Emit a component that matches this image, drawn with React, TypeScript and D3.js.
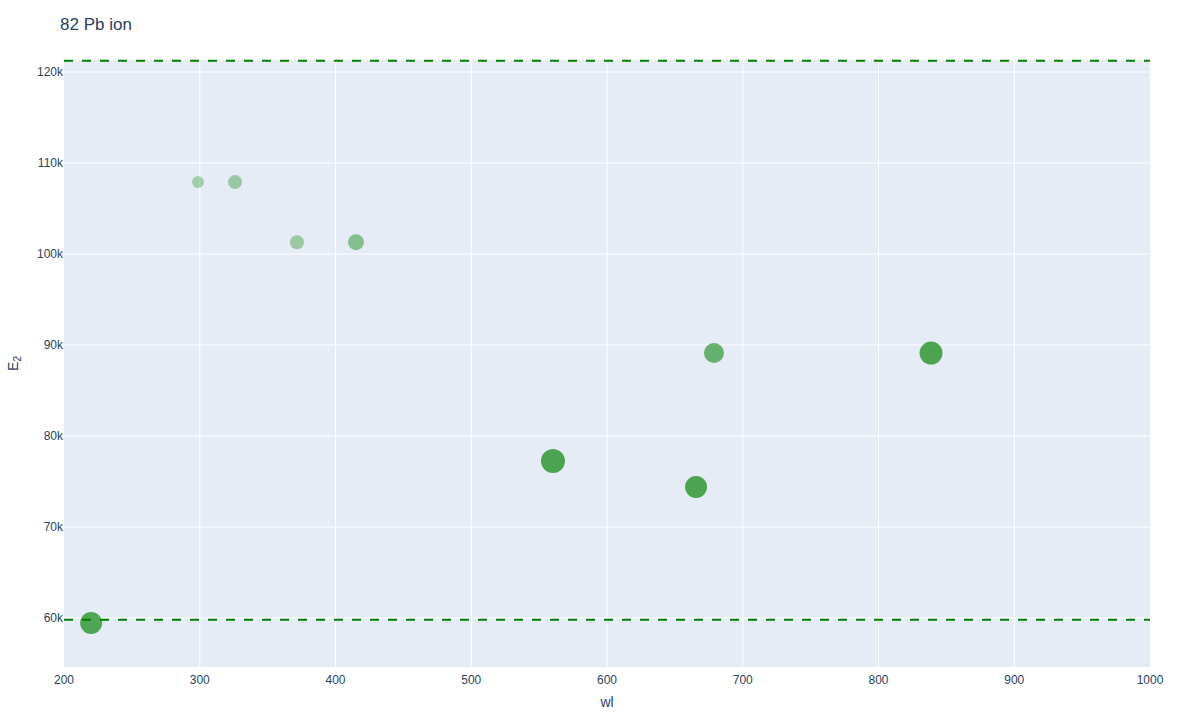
import { useRef, useEffect, RefObject } from 'react';
import * as d3 from 'd3';

// wavelength (nm) and upper level energy (cm-1) of each line
const wl: number[] = [220.0, 298.7, 326.0, 371.6, 415.1, 560.2, 678.8, 665.6, 838.7];
const E2: number[] = [59450, 107900, 107900, 101300, 101300, 77250, 89120, 74400, 89120];
const markerSize: number[] = [22, 12, 14, 14, 16, 24, 20, 22, 23];
const markerOpacity: number[] = [0.66, 0.3, 0.33, 0.33, 0.42, 0.67, 0.56, 0.67, 0.67];

// ionization limits drawn as dashed lines
const limits: number[] = [59819.2, 121245.28];

const xTicks: number[] = [200, 300, 400, 500, 600, 700, 800, 900, 1000];
const yTicks: number[] = [60000, 70000, 80000, 90000, 100000, 110000, 120000];

const App = () => {
  const svgRef: RefObject<SVGSVGElement> = useRef(null);

  useEffect(() => {
    const width = 1200;
    const height = 720;
    const margin = { top: 60, right: 50, bottom: 53, left: 64 };
    const font = '"Liberation Sans", Arial, sans-serif';
    const textColor = '#2a3f5f';

    const svg = d3.select(svgRef.current);
    svg.selectAll('*').remove();
    svg.attr('width', width).attr('height', height);

    const x = d3.scaleLinear().domain([200, 1000]).range([margin.left, width - margin.right]);
    const y = d3.scaleLinear().domain([54615, 121320]).range([height - margin.bottom, margin.top]);

    svg.append('rect')
      .attr('x', margin.left)
      .attr('y', margin.top)
      .attr('width', width - margin.left - margin.right)
      .attr('height', height - margin.top - margin.bottom)
      .attr('fill', '#E5ECF6');

    // grid
    const grid = svg.append('g').attr('stroke', 'white').attr('stroke-width', 1);
    grid.selectAll('line.gx')
      .data(xTicks.slice(1, -1))
      .join('line')
      .attr('x1', (d) => x(d)).attr('x2', (d) => x(d))
      .attr('y1', margin.top).attr('y2', height - margin.bottom);
    grid.selectAll('line.gy')
      .data(yTicks)
      .join('line')
      .attr('x1', margin.left).attr('x2', width - margin.right)
      .attr('y1', (d) => y(d)).attr('y2', (d) => y(d));

    // tick labels
    svg.append('g')
      .selectAll('text')
      .data(xTicks)
      .join('text')
      .attr('x', (d) => x(d))
      .attr('y', height - margin.bottom + 13)
      .attr('dy', '0.35em')
      .attr('text-anchor', 'middle')
      .attr('font-family', font)
      .attr('font-size', 12)
      .attr('fill', textColor)
      .text((d) => d);

    svg.append('g')
      .selectAll('text')
      .data(yTicks)
      .join('text')
      .attr('x', margin.left - 1)
      .attr('y', (d) => y(d))
      .attr('dy', '0.35em')
      .attr('text-anchor', 'end')
      .attr('font-family', font)
      .attr('font-size', 12)
      .attr('fill', textColor)
      .text((d) => d3.format('~s')(d));

    // markers
    svg.append('g')
      .selectAll('circle')
      .data(wl.map((w, i) => ({ w, e: E2[i], s: markerSize[i], o: markerOpacity[i] })))
      .join('circle')
      .attr('cx', (d) => x(d.w))
      .attr('cy', (d) => y(d.e))
      .attr('r', (d) => d.s / 2)
      .attr('fill', 'green')
      .attr('fill-opacity', (d) => d.o);

    // ionization limits
    svg.append('g')
      .selectAll('line')
      .data(limits)
      .join('line')
      .attr('x1', margin.left).attr('x2', width - margin.right)
      .attr('y1', (d) => y(d)).attr('y2', (d) => y(d))
      .attr('stroke', 'green')
      .attr('stroke-width', 2)
      .attr('stroke-dasharray', '9,9');

    // titles
    svg.append('text')
      .attr('x', 60)
      .attr('y', 24)
      .attr('dy', '0.35em')
      .attr('font-family', font)
      .attr('font-size', 17)
      .attr('fill', textColor)
      .text('82 Pb ion');

    svg.append('text')
      .attr('x', (margin.left + width - margin.right) / 2)
      .attr('y', 702)
      .attr('dy', '0.35em')
      .attr('text-anchor', 'middle')
      .attr('font-family', font)
      .attr('font-size', 14)
      .attr('fill', textColor)
      .text('wl');

    const yt = svg.append('text')
      .attr('transform', `translate(18,${(margin.top + height - margin.bottom) / 2}) rotate(-90)`)
      .attr('text-anchor', 'middle')
      .attr('font-family', font)
      .attr('font-size', 14)
      .attr('fill', textColor);
    yt.append('tspan').text('E');
    yt.append('tspan').attr('font-size', 10).attr('dy', 3).text('2');
  }, []);

  return <svg ref={svgRef} style={{ position: 'absolute', left: 0, top: 0 }}></svg>;
};

export default App;
